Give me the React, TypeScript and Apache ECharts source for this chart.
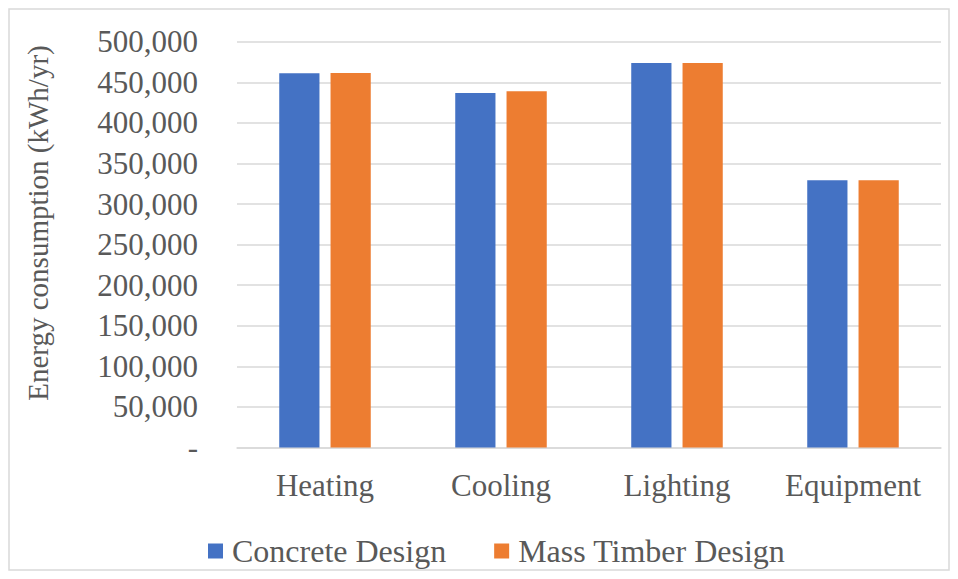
import React, { useEffect, useRef } from "react";
import * as echarts from "echarts";

const categories = ["Heating", "Cooling", "Lighting", "Equipment"];
const concreteDesign = [461000, 436800, 473700, 329200];
const massTimberDesign = [461300, 438900, 473700, 329200];
const seriesNames = ["Concrete Design", "Mass Timber Design"];
const yTicks = { min: 0, max: 500000, interval: 50000 };
const yTitle = "Energy consumption (kWh/yr)";

export default function App() {
  const ref = useRef<HTMLDivElement>(null);
  useEffect(() => {
    document.body.style.margin = "0";
    const chart = echarts.init(ref.current!, null, { renderer: "svg" });
    const font = "'Liberation Serif', 'Times New Roman', serif";
    chart.setOption({
      animation: false,
      backgroundColor: "#ffffff",
      textStyle: { fontFamily: font },
      graphic: [
        {
          type: "rect",
          shape: { x: 9, y: 9, width: 940, height: 561 },
          style: { fill: "none", stroke: "#d9d9d9", lineWidth: 1.5 },
          silent: true,
        },
        {
          type: "text",
          x: 38,
          y: 223,
          rotation: Math.PI / 2,
          style: {
            text: yTitle,
            fontFamily: font,
            fontSize: 29,
            fill: "#595959",
            align: "center",
            verticalAlign: "middle",
          },
          silent: true,
        },
      ],
      grid: { left: 237, right: 17, top: 41.7, bottom: 131.5 },
      legend: {
        data: seriesNames,
        top: 530,
        left: 203,
        itemWidth: 15,
        itemHeight: 15,
        itemGap: 48,
        icon: "rect",
        textStyle: { fontFamily: font, fontSize: 32, color: "#595959", padding: [0, 0, 0, 4] },
      },
      xAxis: {
        type: "category",
        data: categories,
        axisTick: { show: false },
        axisLine: { lineStyle: { color: "#d9d9d9", width: 1.5 } },
        axisLabel: {
          interval: 0,
          fontFamily: font,
          fontSize: 31,
          color: "#595959",
          margin: 22,
          lineHeight: 31,
        },
      },
      yAxis: {
        type: "value",
        min: yTicks.min,
        max: yTicks.max,
        interval: yTicks.interval,
        axisLine: { show: false },
        axisTick: { show: false },
        splitLine: { lineStyle: { color: "#d9d9d9", width: 1.5 } },
        axisLabel: {
          fontFamily: font,
          fontSize: 31,
          color: "#595959",
          margin: 39,
          padding: [0, 0, 8, 0],
          formatter: (v: number) => (v === 0 ? "-" : v.toLocaleString("en-US")),
        },
      },
      series: [
        {
          name: seriesNames[0],
          type: "bar",
          data: concreteDesign,
          itemStyle: { color: "#4472C4" },
          barGap: "27.5%",
          barCategoryGap: "48%",
        },
        {
          name: seriesNames[1],
          type: "bar",
          data: massTimberDesign,
          itemStyle: { color: "#ED7D31" },
          barGap: "27.5%",
          barCategoryGap: "48%",
        },
      ],
    });
    return () => chart.dispose();
  }, []);
  return (
    <div
      ref={ref}
      style={{ position: "absolute", left: 0, top: 0, width: 958, height: 579 }}
    />
  );
}
